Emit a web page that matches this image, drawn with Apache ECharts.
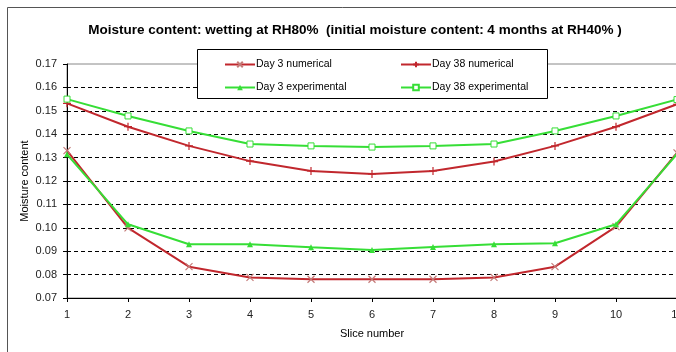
<!DOCTYPE html>
<html>
<head>
<meta charset="utf-8">
<script src="https://cdn.jsdelivr.net/npm/echarts@6/dist/echarts.min.js"></script>
<style>html,body{margin:0;padding:0;background:#fff}#c{width:676px;height:352px}</style>
</head>
<body>
<div id="c"></div>
<script>
const slices = [1,2,3,4,5,6,7,8,9,10,11];
const day3Numerical = [0.133,0.100,0.0834,0.0788,0.078,0.078,0.078,0.0788,0.0834,0.1005,0.132];
const day38Numerical = [0.1532,0.1432,0.135,0.1285,0.1243,0.123,0.1243,0.1283,0.135,0.1432,0.1528];
const day3Experimental = [0.1314,0.1015,0.093,0.093,0.0917,0.0905,0.0918,0.093,0.0934,0.1015,0.1315];
const day38Experimental = [0.155,0.1478,0.1414,0.1358,0.135,0.1345,0.135,0.1358,0.1414,0.1478,0.1548];
const seriesNames = ['Day 3 numerical','Day 38 numerical','Day 3 experimental','Day 38 experimental'];
const titleText = 'Moisture content: wetting at RH80%  (initial moisture content: 4 months at RH40% )';

const RED = '#c1272d', GREEN = '#36de36';
const pair = arr => slices.map((s,i)=>[s,arr[i]]);
const chart = echarts.init(document.getElementById('c'));
const font = 'Liberation Sans, Arial, sans-serif';
const legText = {fontFamily:font,fontSize:10.5,color:'#000',padding:[0,0,0,-4]};
chart.setOption({
  backgroundColor:'#fff',
  animation:false,
  title:{text:titleText,left:350,textAlign:'center',top:18,textStyle:{fontFamily:font,fontSize:13.5,fontWeight:'bold',color:'#000'}},
  graphic:[
    {type:'rect',z:0,shape:{x:7.5,y:7.5,width:720,height:400},style:{fill:'none',stroke:'#555',lineWidth:1}},
    {type:'rect',z:3,shape:{x:197.5,y:49.5,width:350,height:49},style:{fill:'#fff',stroke:'#000',lineWidth:1}}
  ],
  legend:[
    {z:10,orient:'vertical',left:219,top:54,itemWidth:30,itemHeight:7,itemGap:12,data:[seriesNames[0],seriesNames[2]],textStyle:legText},
    {z:10,orient:'vertical',left:395,top:54,itemWidth:30,itemHeight:7,itemGap:12,data:[seriesNames[1],seriesNames[3]],textStyle:legText}
  ],
  grid:{left:67,top:64,width:610,height:234,outerBoundsMode:'none',containLabel:false,show:true,borderColor:'#888',borderWidth:1,backgroundColor:'transparent'},
  xAxis:{type:'value',min:1,max:11,interval:1,name:'Slice number',nameLocation:'middle',nameGap:30,
    nameTextStyle:{fontFamily:font,fontSize:11,color:'#000'},
    axisLine:{lineStyle:{color:'#000',width:1}},axisTick:{show:true,length:4,lineStyle:{color:'#000'}},
    axisLabel:{fontFamily:font,fontSize:11,color:'#222',margin:11,showMaxLabel:true},splitLine:{show:false}},
  yAxis:{type:'value',min:0.07,max:0.17,interval:0.01,name:'Moisture content',nameLocation:'middle',nameGap:37,nameMoveOverlap:false,
    nameTextStyle:{fontFamily:font,fontSize:11,color:'#000'},
    axisLine:{show:true,lineStyle:{color:'#000',width:1}},axisTick:{show:true,length:4,lineStyle:{color:'#000'}},
    axisLabel:{fontFamily:font,fontSize:11,color:'#222',margin:10,formatter:v=>v.toFixed(2)},
    splitLine:{show:true,showMinLine:false,showMaxLine:false,lineStyle:{color:'#000',type:[4,3],width:1}}},
  series:[
    {name:seriesNames[0],type:'line',data:pair(day3Numerical),z:5,lineStyle:{color:RED,width:2},
     symbol:'path://M0,0L10,10M10,0L0,10',symbolSize:7,itemStyle:{color:'none',borderColor:'#c47a78',borderWidth:1.2}},
    {name:seriesNames[1],type:'line',data:pair(day38Numerical),z:5,lineStyle:{color:RED,width:2},
     symbol:'path://M5,0L5,10M0,5L10,5',symbolSize:8,itemStyle:{color:'none',borderColor:RED,borderWidth:1.2}},
    {name:seriesNames[2],type:'line',data:pair(day3Experimental),z:6,lineStyle:{color:GREEN,width:2},
     symbol:'triangle',symbolSize:6,itemStyle:{color:GREEN}},
    {name:seriesNames[3],type:'line',data:pair(day38Experimental),z:6,lineStyle:{color:GREEN,width:2},
     symbol:'rect',symbolSize:6,itemStyle:{color:'#fff',borderColor:GREEN,borderWidth:1}}
  ]
});
</script>
</body>
</html>
